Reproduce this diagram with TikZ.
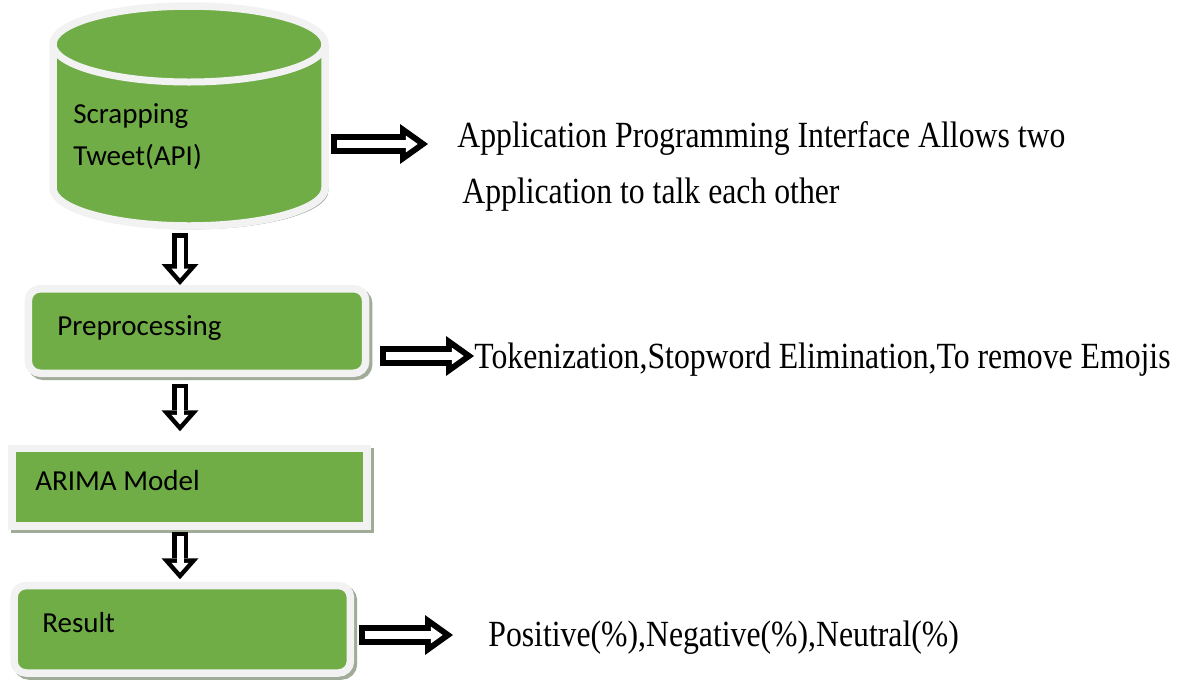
\documentclass[tikz,border=0pt]{standalone}
\usepackage{fontspec}
\setmainfont{Liberation Serif}
\newfontfamily\boxfont{Carlito}
\newfontfamily\notefont[FakeStretch=0.86]{Liberation Serif}
\usetikzlibrary{arrows.meta, calc}
\definecolor{boxgreen}{RGB}{112,173,71}
\definecolor{rimwhite}{RGB}{242,242,242}
\definecolor{shadowgrey}{RGB}{160,171,152}

\tikzset{
  boxshadow/.style={preaction={draw=shadowgrey, fill=shadowgrey, transform canvas={shift={(0.06cm,-0.06cm)}}}},
  greenbox/.style={fill=boxgreen, draw=rimwhite, line width=0.15cm, inner sep=0pt, boxshadow},
  boxtext/.style={anchor=base west, inner sep=0pt, align=left, font=\boxfont\fontsize{16.5}{23.9}\selectfont},
  notetext/.style={anchor=base west, inner sep=0pt, font=\notefont\fontsize{21}{25}\selectfont},
  rightarrow/.style={line width=0.4cm, -{Triangle[length=0.56cm, width=0.8cm, line width=0pt]},
    postaction={draw=white, line width=0.16cm, shorten <=0.12cm, shorten >=0.207cm,
      -{Triangle[length=0.234cm, width=0.334cm, line width=0pt]}}},
  downarrow/.style={line width=0.32cm, -{Triangle[length=0.42cm, width=0.74cm, line width=0pt]},
    postaction={draw=white, line width=0.14cm, shorten <=0.09cm, shorten >=0.136cm,
      -{Triangle[length=0.194cm, width=0.342cm, line width=0pt]}}}
}

\begin{document}
\begin{tikzpicture}[x=0.02cm, y=0.02cm]
  \useasboundingbox (0,0) rectangle (1185,-680);

  % data source cylinder
  \path[greenbox] (53,-44) -- (53,-188) arc[start angle=180, end angle=360, x radius=136, y radius=38]
    -- (325,-44) arc[start angle=0, end angle=180, x radius=136, y radius=38] -- cycle;
  \draw[rimwhite, line width=0.14cm] (53,-44) arc[start angle=180, end angle=360, x radius=136, y radius=38];
  \node[boxtext] (api) at (73,-165) {Scrapping\\Tweet(API)};
  \coordinate (apiE) at (331,-144);
  \coordinate (apiS) at (180,-233);

  % processing steps
  \node[greenbox, rounded corners=0.24cm, minimum width=6.75cm, minimum height=1.69cm] (pre) at (197,-331) {};
  \node[greenbox, minimum width=7.1cm, minimum height=1.55cm] (arima) at (189.5,-487.25) {};
  \node[greenbox, rounded corners=0.24cm, minimum width=6.73cm, minimum height=1.75cm] (res) at (182.25,-629.25) {};
  \node[boxtext] (preText) at (57,-335) {Preprocessing};
  \node[boxtext] (arimaText) at (35,-490) {ARIMA Model};
  \node[boxtext] (resText) at (42,-632) {Result};

  % notes
  \node[notetext] (apiNote) at (457,-147) {Application Programming Interface Allows two};
  \node[notetext] (apiNoteB) at (462,-203) {Application to talk each other};
  \node[notetext] (tok) at (474,-368) {Tokenization,Stopword Elimination,To remove Emojis};
  \node[notetext] (outcome) at (488,-646) {Positive(\%),Negative(\%),Neutral(\%)};

  % flow
  \draw[downarrow] (apiS) -- (pre.north -| apiS);
  \draw[downarrow] ([yshift=-0.13cm]pre.south -| apiS) -- ([yshift=0.27cm]arima.north -| apiS);
  \draw[downarrow] ([yshift=-0.04cm]arima.south -| apiS) -- ([yshift=0.05cm]res.north -| apiS);

  \draw[rightarrow] (apiE) -- ([xshift=-0.58cm]apiNote.west |- apiE);
  \draw[rightarrow] ([shift={(0.22cm,-0.5cm)}]pre.east) coordinate (preOut) -- (preOut -| tok.west);
  \draw[rightarrow] ([shift={(0.09cm,-0.115cm)}]res.east) coordinate (resOut) -- ([xshift=-0.7cm]outcome.west |- resOut);
\end{tikzpicture}
\end{document}
